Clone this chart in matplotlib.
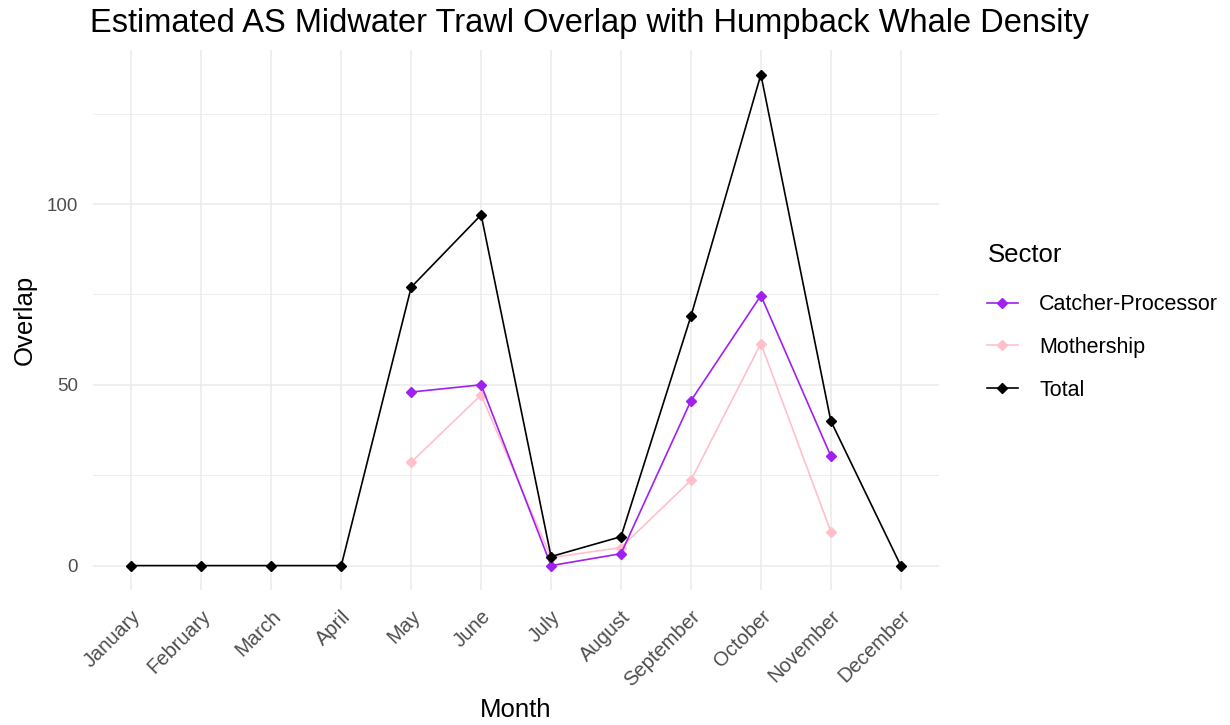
import matplotlib.pyplot as plt
import numpy as np

plt.rcParams['font.family'] = ['Liberation Sans', 'DejaVu Sans']

# --- values ---
months = ["January", "February", "March", "April", "May", "June", "July",
          "August", "September", "October", "November", "December"]
total = [0, 0, 0, 0, 77, 97, 2.5, 8, 69, 135.8, 40, 0]
catcher_processor = [np.nan, np.nan, np.nan, np.nan, 48, 50, 0, 3.3, 45.6, 74.7, 30.3, np.nan]
mothership = [np.nan, np.nan, np.nan, np.nan, 28.6, 47.2, 2.2, 5, 23.6, 61.4, 9.4, np.nan]

x = np.arange(len(months))

fig = plt.figure(figsize=(12.3, 7.25), dpi=100)
ax = fig.add_axes([0.0756, 0.186, 0.688, 0.745])

series = [
    ("Catcher-Processor", catcher_processor, "#A020F0"),
    ("Mothership", mothership, "#FFC0CB"),
    ("Total", total, "black"),
]
for name, vals, col in series:
    ax.plot(x, vals, color=col, lw=1.2, marker="D", markersize=5,
            label=name, zorder=3 if name != "Mothership" else 2)

# ggplot-like minimal theme
ax.set_xlim(-0.55, 11.55)
ymax = np.nanmax(total)
ax.set_ylim(-0.05 * ymax, ymax * 1.05)
ax.set_yticks([0, 50, 100])
ax.set_yticks([25, 75, 125], minor=True)
ax.set_xticks(x)
ax.set_xticklabels(months, rotation=45, ha="right", va="top", rotation_mode="anchor")
ax.tick_params(axis="y", length=0, labelsize=13.5, colors="#4D4D4D", pad=11)
ax.tick_params(axis="x", length=0, labelsize=14.5, colors="#4D4D4D", pad=12)
ax.tick_params(which="minor", length=0)
ax.grid(True, which="major", color="#EBEBEB", lw=1.1, zorder=0)
ax.grid(True, which="minor", axis="y", color="#EBEBEB", lw=0.6, zorder=0)
for s in ax.spines.values():
    s.set_visible(False)

ax.set_xlabel("Month", fontsize=18.5, labelpad=6)
ax.set_ylabel("Overlap", fontsize=18.5, labelpad=7)
fig.text(0.073, 0.968, "Estimated AS Midwater Trawl Overlap with Humpback Whale Density",
         fontsize=23.5, ha="left", va="center")

leg = fig.legend(loc="upper left", bbox_to_anchor=(0.787, 0.692), frameon=False,
                 title="Sector", title_fontsize=18.5, fontsize=15.5,
                 handlelength=1.4, handletextpad=1.0, labelspacing=1.0,
                 alignment="left")
leg._legend_box.sep = 20

plt.savefig("out.png", dpi=100)
